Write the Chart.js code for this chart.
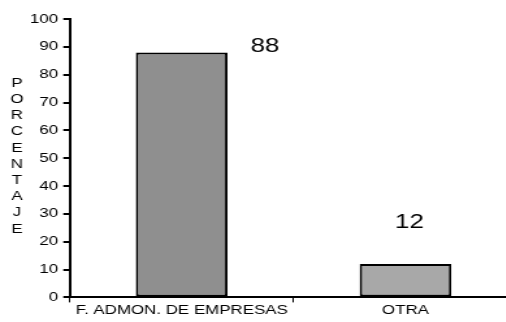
<!DOCTYPE html>
<html>
<head>
<meta charset="utf-8">
<script src="https://cdn.jsdelivr.net/npm/chart.js@4/dist/chart.umd.min.js"></script>
<style>
  html, body { margin: 0; padding: 0; background: #fff; overflow: hidden; }
  #wrap { width: 400px; height: 322px; transform: scaleX(1.3); transform-origin: 0 0; }
</style>
</head>
<body>
<div id="wrap"><canvas id="chart" width="400" height="322"></canvas></div>
<script>
const categories = ['F. ADMON. DE EMPRESAS', 'OTRA'];
const percentages = [88, 12];
const barColors = ['#8f8f8f', '#a8a8a8'];
const yTicks = [0, 10, 20, 30, 40, 50, 60, 70, 80, 90, 100];
const yTitle = 'PORCENTAJE';

const FONT = '"Liberation Sans", Arial, sans-serif';

// value labels sit where the original spreadsheet put them
const valueLabels = {
  id: 'valueLabels',
  afterDatasetsDraw(chart) {
    const ctx = chart.ctx;
    const x = chart.scales.x, y = chart.scales.y;
    const shifts = [[64, 2.0], [3, 14.8]];
    ctx.save();
    ctx.fillStyle = '#000';
    ctx.font = '20px ' + FONT;
    ctx.textAlign = 'center';
    ctx.textBaseline = 'middle';
    percentages.forEach((v, i) => {
      ctx.fillText(String(v), x.getPixelForValue(i) + shifts[i][0], y.getPixelForValue(v + shifts[i][1]));
    });
    ctx.restore();
  }
};

// stacked letters for the y title
const stackedTitle = {
  id: 'stackedTitle',
  afterDraw(chart) {
    const ctx = chart.ctx;
    const area = chart.chartArea;
    const step = 16.2;
    const mid = (area.top + area.bottom) / 2 - 2;
    const start = mid - step * (yTitle.length - 1) / 2;
    ctx.save();
    ctx.fillStyle = '#000';
    ctx.font = '13px ' + FONT;
    ctx.textAlign = 'center';
    ctx.textBaseline = 'middle';
    yTitle.split('').forEach((c, i) => ctx.fillText(c, 13, start + i * step));
    ctx.restore();
  }
};

new Chart(document.getElementById('chart'), {
  type: 'bar',
  data: {
    labels: categories,
    datasets: [{
      data: percentages,
      backgroundColor: barColors,
      borderColor: '#000',
      borderWidth: 2,
      borderSkipped: false,
      barPercentage: 0.41,
      categoryPercentage: 1
    }]
  },
  options: {
    responsive: false,
    animation: false,
    devicePixelRatio: 1,
    layout: { padding: { left: 19, right: 2, top: 19, bottom: 4 } },
    plugins: { legend: { display: false }, tooltip: { enabled: false } },
    scales: {
      x: {
        grid: { display: true, drawOnChartArea: false, offset: true, tickLength: 5, color: '#000', lineWidth: 1 },
        border: { color: '#000', width: 2 },
        ticks: { color: '#000', padding: 0, font: { size: 13, family: FONT }, maxRotation: 0 }
      },
      y: {
        min: 0,
        max: 100,
        afterBuildTicks(scale) { scale.ticks = yTicks.map(v => ({ value: v })); },
        grid: { display: true, drawOnChartArea: false, tickLength: 5, color: '#000', lineWidth: 2 },
        border: { color: '#000', width: 2 },
        ticks: { color: '#000', padding: 4, font: { size: 13, family: FONT } }
      }
    }
  },
  plugins: [valueLabels, stackedTitle]
});
</script>
</body>
</html>
